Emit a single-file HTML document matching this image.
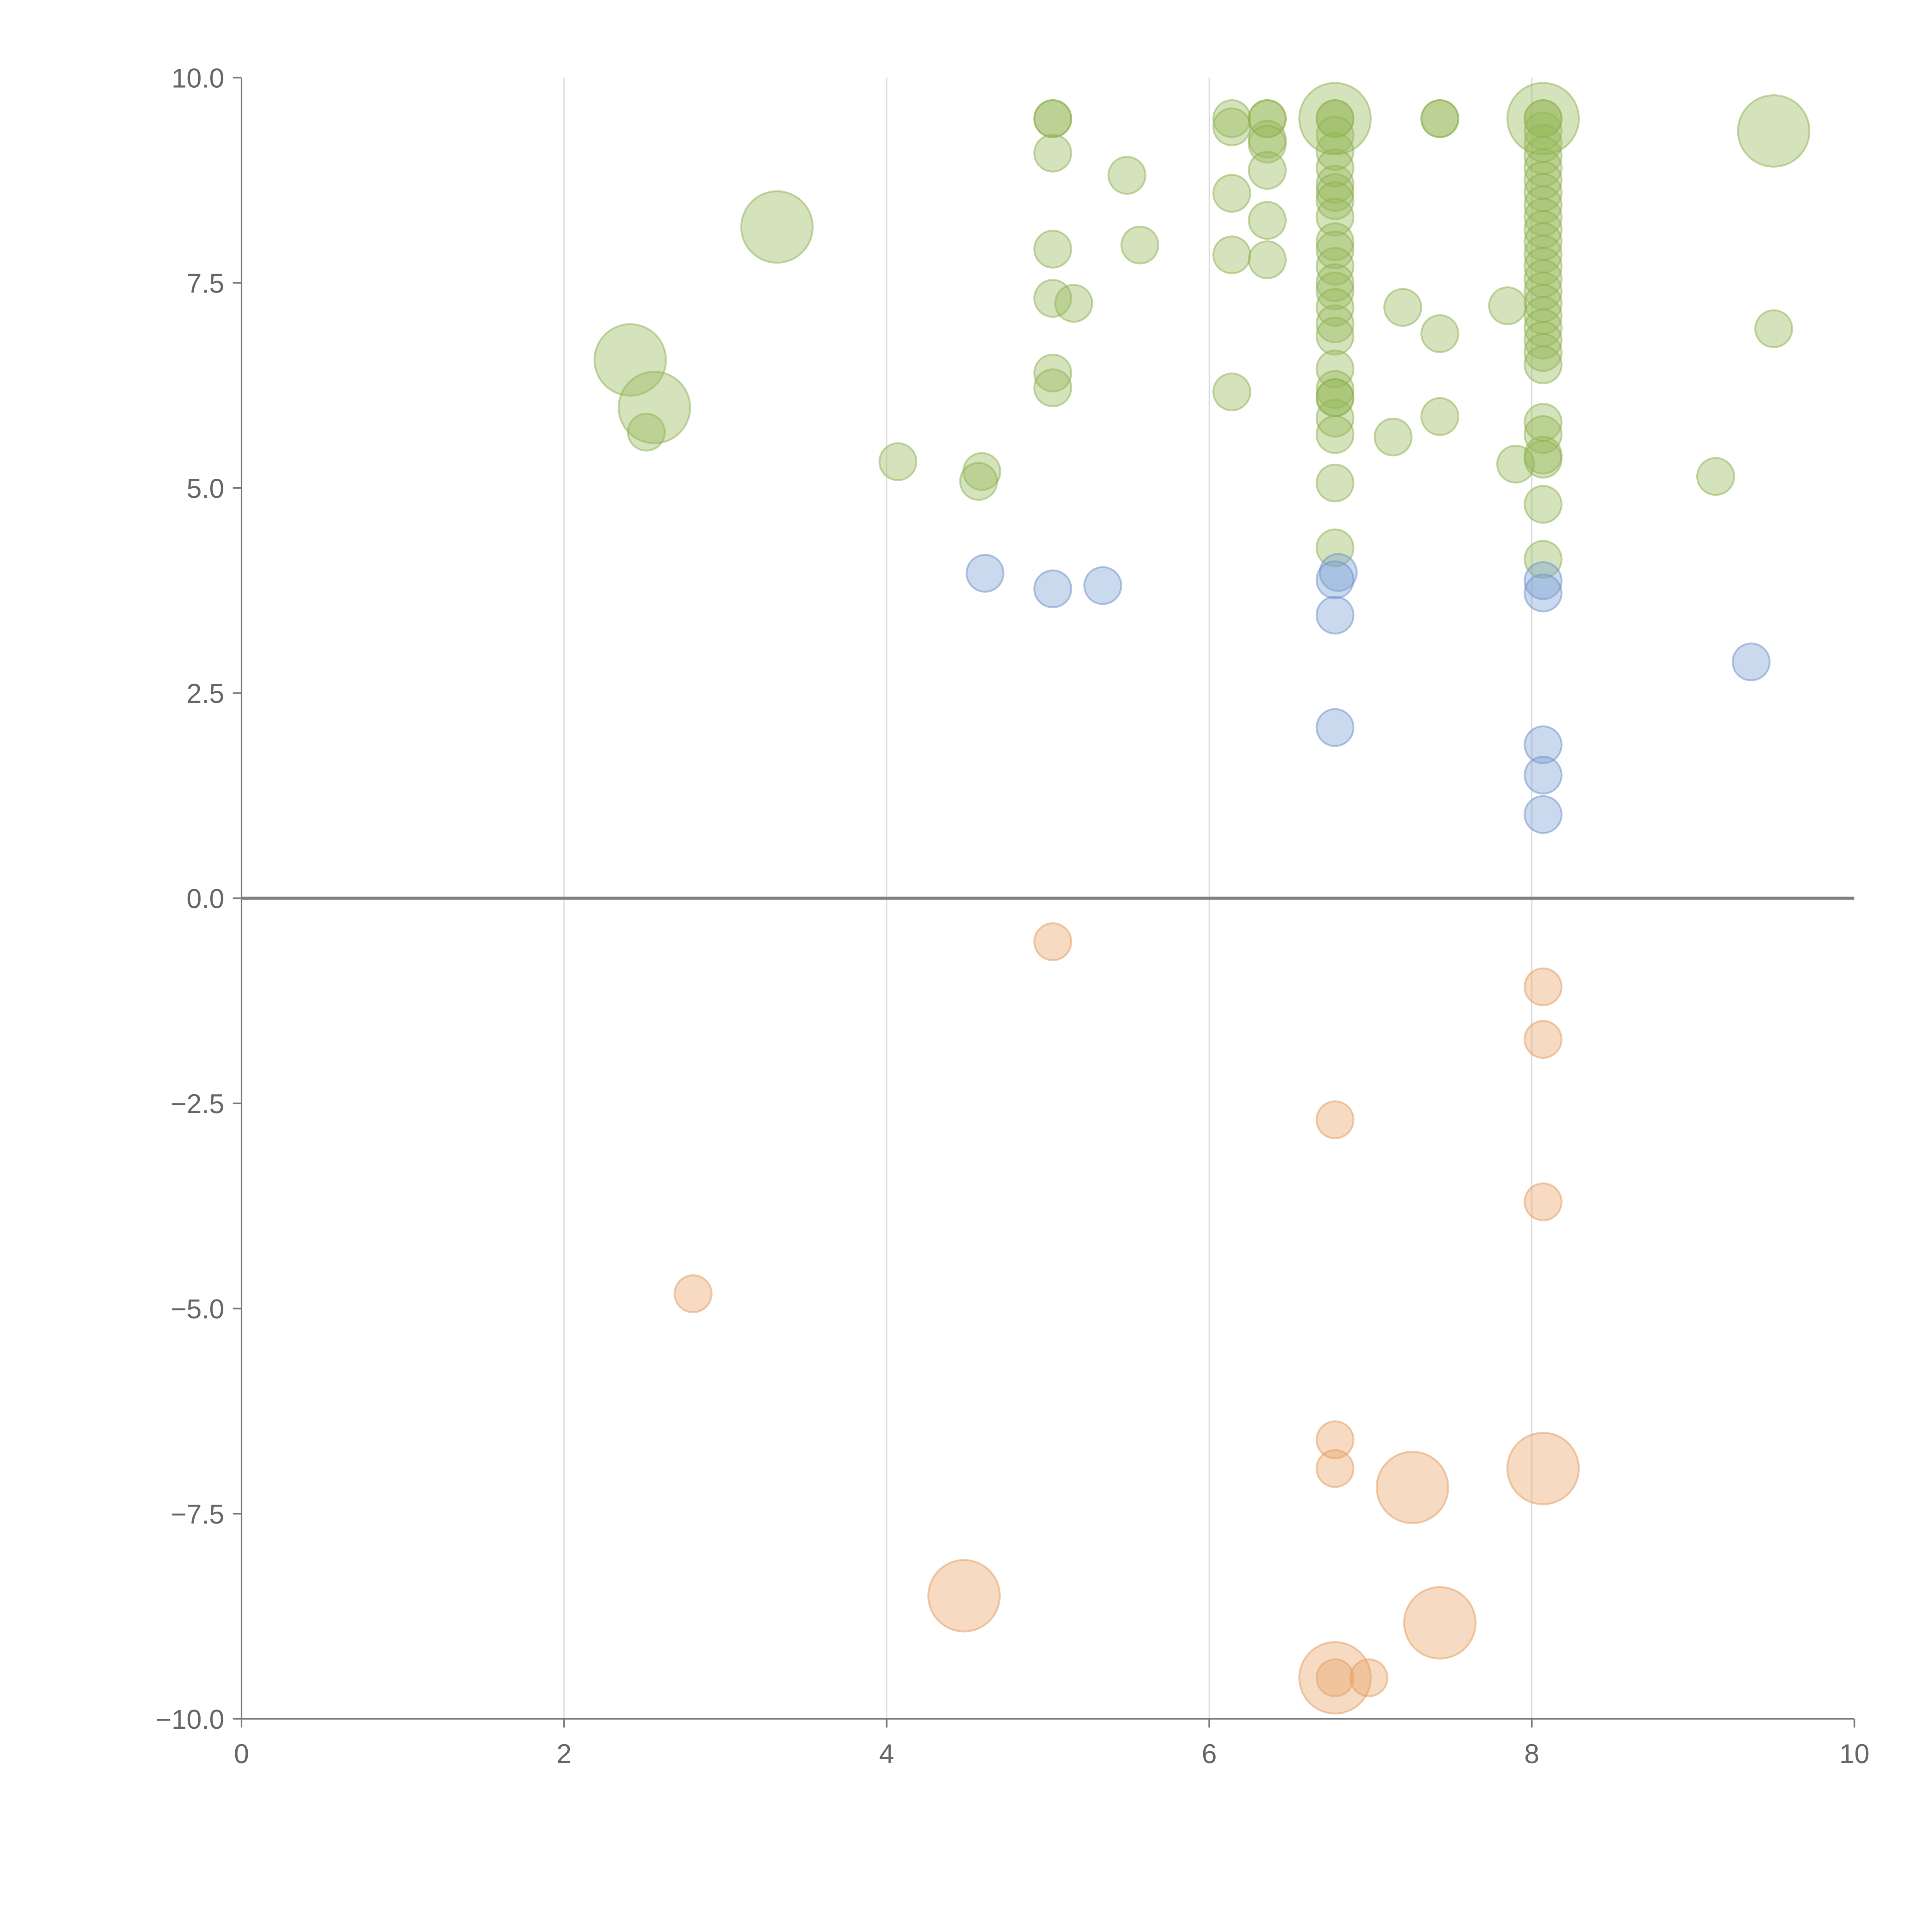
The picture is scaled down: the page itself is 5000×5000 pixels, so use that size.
<!DOCTYPE html>
<html><head><meta charset="utf-8">
<style>html,body{margin:0;padding:0;background:#fff;}svg{display:block;}</style>
</head><body>
<svg id="chart" width="5000" height="5000" viewBox="0 0 1568 1568" xmlns="http://www.w3.org/2000/svg" font-family="Liberation Sans, sans-serif">
<g id="grid"></g>
<g id="axes"></g>
<g id="marks"></g>
</svg>
<script>
const xTicks = [0, 2, 4, 6, 8, 10];
const yTicks = [10, 7.5, 5, 2.5, 0, -2.5, -5, -7.5, -10];
const greenX = [5.03,5.03,5.03,5.49,5.03,5.57,5.03,5.16,5.03,5.03,4.07,4.59,4.57,2.51,6.14,6.14,6.14,6.14,6.14,6.36,6.36,6.36,6.36,6.36,6.36,6.36,
 6.78,6.78,6.78,6.78,6.78,6.78,6.78,6.78,6.78,6.78,6.78,6.78,6.78,6.78,6.78,6.78,6.78,6.78,6.78,6.78,6.78,6.78,6.78,6.78,6.78,
 7.2,7.14,7.43,7.43,7.43,7.43,7.85,7.9,
 8.07,8.07,8.07,8.07,8.07,8.07,8.07,8.07,8.07,8.07,8.07,8.07,8.07,8.07,8.07,8.07,8.07,8.07,8.07,8.07,8.07,8.07,8.07,8.07,8.07,8.07,8.07,8.07,
 9.14,9.5, 2.41,2.56,3.32,6.78,8.07,9.5];
const greenY = [9.5,9.5,9.08,8.81,7.91,7.96,7.31,7.25,6.4,6.22,5.32,5.2,5.08,5.68,9.5,9.4,8.59,7.84,6.17,9.5,9.5,9.25,9.19,8.87,8.26,7.78,
 9.5,9.5,9.3,9.1,8.9,8.7,8.6,8.5,8.3,8.0,7.9,7.7,7.5,7.4,7.2,7.0,6.85,6.45,6.2,6.1,5.85,5.65,5.06,4.27,6.1,
 7.2,5.62,9.5,9.5,6.88,5.87,7.22,5.29,
 9.5,9.5,9.35,9.2,9.05,8.9,8.75,8.6,8.45,8.3,8.15,8.0,7.85,7.7,7.55,7.4,7.25,7.1,6.95,6.8,6.65,6.5,5.8,5.65,5.4,5.35,4.8,4.13,
 5.14,6.94, 6.56,5.98,8.18,9.5,9.5,9.35];
const greenSize = greenX.map((_, i) => i >= greenX.length - 6 ? 2 : 1);
const blueX = [4.61,5.03,5.34,6.8,6.78,6.78,6.78,8.07,8.07,8.07,8.07,8.07,9.36];
const blueY = [3.96,3.77,3.81,3.97,3.88,3.45,2.08,3.87,3.72,1.87,1.5,1.02,2.88];
const orangeX = [5.03,2.8,8.07,8.07,8.07,6.78,6.78,6.78,6.78,6.99,4.48,7.26,8.07,7.43,6.78];
const orangeY = [-0.53,-4.82,-1.08,-1.72,-3.7,-2.7,-6.6,-6.95,-9.5,-9.5,-8.5,-7.18,-6.95,-8.83,-9.5];
const orangeSize = [1,1,1,1,1,1,1,1,1,1,2,2,2,2,2];

const NS = 'http://www.w3.org/2000/svg';
const X0 = 196, X1 = 1505, Y0 = 1395, Y1 = 63;
const xs = v => X0 + (v - 0) / 10 * (X1 - X0);
const ys = v => Y0 - (v + 10) / 20 * (Y0 - Y1);
function mk(tag, attrs, parent) { const e = document.createElementNS(NS, tag); for (const k in attrs) e.setAttribute(k, attrs[k]); parent.appendChild(e); return e; }
const grid = document.getElementById('grid'), axes = document.getElementById('axes'), marks = document.getElementById('marks');

xTicks.forEach(t => {
  if (t > 0 && t < 10) {
    const g = mk('line', {x1: xs(t), x2: xs(t), y1: Y1, y2: Y0, stroke: '#dcdcdc', 'stroke-width': 1}, grid);
    
    
  }
  const tk = mk('line', {x1: xs(t), x2: xs(t), y1: Y0, y2: Y0 + 7, stroke: '#777', 'stroke-width': 1.3}, axes);
  
  
  const lb = mk('text', {x: xs(t), y: Y0 + 36, 'text-anchor': 'middle', 'font-size': 22, fill: '#666'}, axes);
  lb.textContent = String(t);
  
  
});
yTicks.forEach(t => {
  const tk = mk('line', {x1: X0 - 7, x2: X0, y1: ys(t), y2: ys(t), stroke: '#777', 'stroke-width': 1.3}, axes);
  
  
  const lb = mk('text', {x: X0 - 14, y: ys(t) + 8, 'text-anchor': 'end', 'font-size': 22, fill: '#666'}, axes);
  lb.textContent = (t < 0 ? '\u2212' : '') + Math.abs(t).toFixed(1);
  
  
});
const ya = mk('line', {x1: X0, x2: X0, y1: Y1, y2: Y0, stroke: '#777', 'stroke-width': 1.3}, axes);


const xa = mk('line', {x1: X0, x2: X1, y1: Y0, y2: Y0, stroke: '#777', 'stroke-width': 1.3}, axes);


const zl = mk('line', {x1: X0, x2: X1, y1: ys(0), y2: ys(0), stroke: '#808080', 'stroke-width': 2.5}, axes);



function series(X, Y, S, fill, stroke, name) {
  X.forEach((x, i) => {
    const r = S[i] === 2 ? 29 : 15;
    const c = mk('circle', {cx: xs(x), cy: ys(Y[i]), r: r, fill: fill, 'fill-opacity': 0.4, stroke: stroke, 'stroke-opacity': 0.5, 'stroke-width': 1.5}, marks);
    
    
  });
}
series(greenX, greenY, greenSize, '#95ba5a', '#8db04f', 'green-bubble');
series(blueX, blueY, blueX.map(() => 1), '#7a9fd2', '#6a8fc8', 'blue-bubble');
series(orangeX, orangeY, orangeSize, '#e9a366', '#e39a5c', 'orange-bubble');
</script>
</body></html>
